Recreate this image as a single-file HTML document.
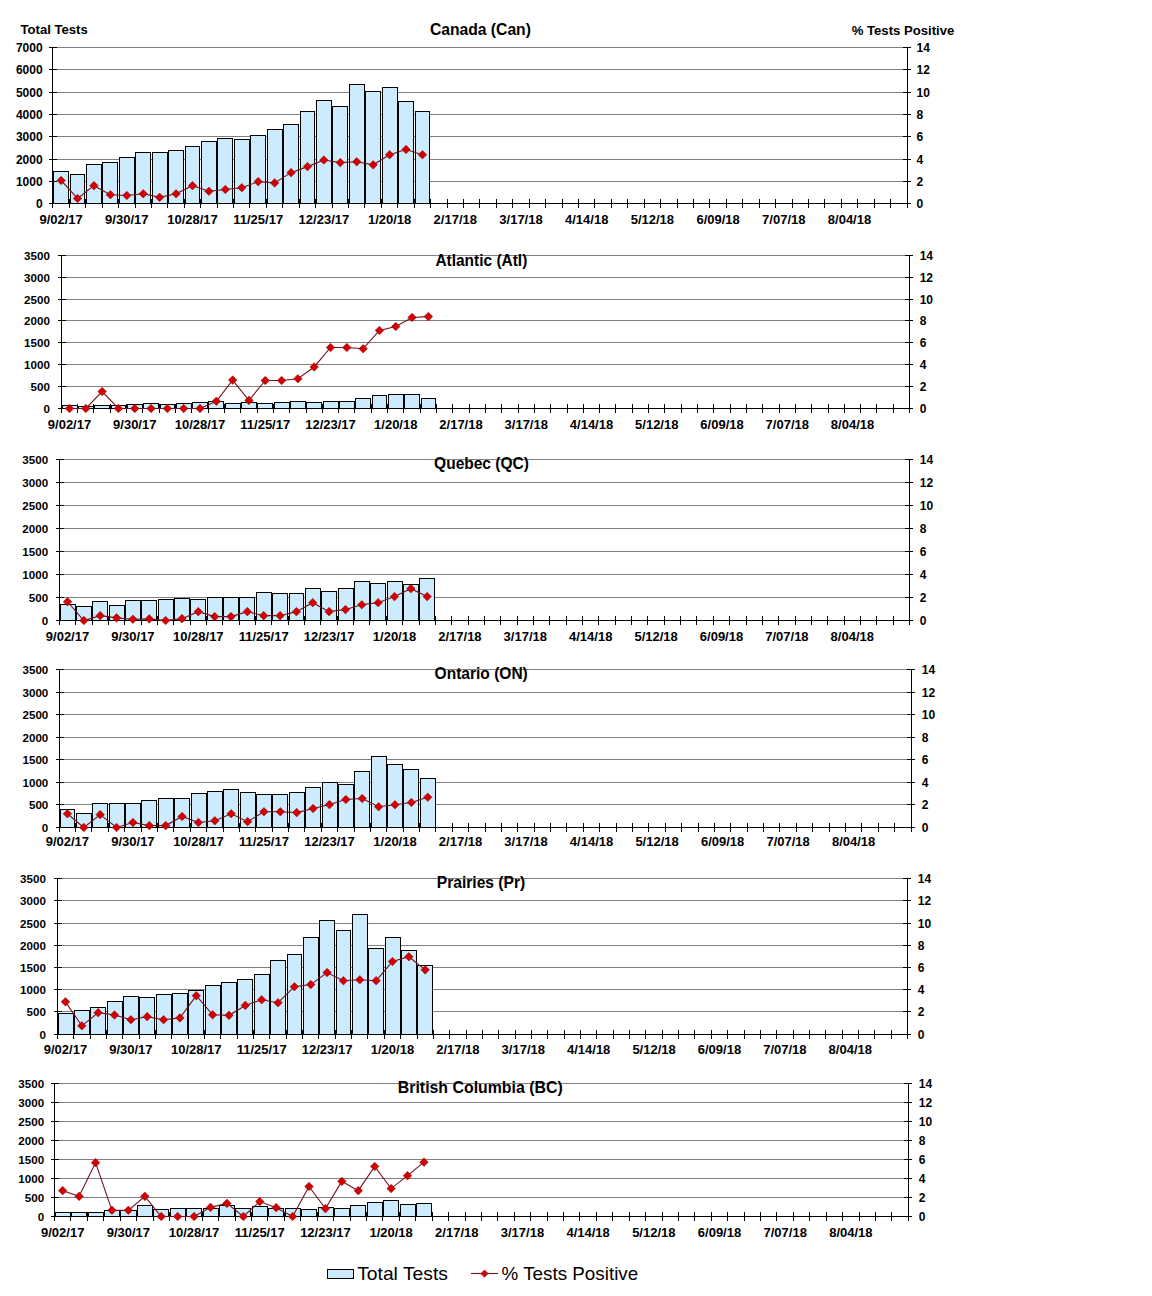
<!DOCTYPE html>
<html><head><meta charset="utf-8"><style>
html,body{margin:0;padding:0;background:#fff;}
body{width:1152px;height:1296px;overflow:hidden;}
svg{display:block;font-family:"Liberation Sans",sans-serif;}
.yl{font-size:12px;font-weight:bold;fill:#000;}
.xl{font-size:13px;font-weight:bold;fill:#000;}
.tt{font-size:15.6px;font-weight:bold;fill:#000;}
.hd{font-size:13.1px;font-weight:bold;fill:#000;}
.lg{font-size:19px;fill:#000;}
</style></head><body>
<svg width="1152" height="1296" viewBox="0 0 1152 1296" stroke-width="1">
<rect width="1152" height="1296" fill="#fff"/>
<text x="20.5" y="33.75" class="hd" textLength="67.2" lengthAdjust="spacingAndGlyphs">Total Tests</text>
<text x="851.7" y="35" class="hd" textLength="102.7" lengthAdjust="spacingAndGlyphs">% Tests Positive</text>
<path d="M53 181.5H907" stroke="#808080"/>
<path d="M53 159.5H907" stroke="#808080"/>
<path d="M53 136.5H907" stroke="#808080"/>
<path d="M53 114.5H907" stroke="#808080"/>
<path d="M53 92.5H907" stroke="#808080"/>
<path d="M53 69.5H907" stroke="#808080"/>
<path d="M53 47.5H907" stroke="#808080"/>
<rect x="53.5" y="171.5" width="15" height="32" fill="#CCEBFD" stroke="#000"/>
<rect x="70.5" y="174.5" width="14" height="29" fill="#CCEBFD" stroke="#000"/>
<rect x="86.5" y="164.5" width="15" height="39" fill="#CCEBFD" stroke="#000"/>
<rect x="102.5" y="162.5" width="15" height="41" fill="#CCEBFD" stroke="#000"/>
<rect x="119.5" y="157.5" width="15" height="46" fill="#CCEBFD" stroke="#000"/>
<rect x="135.5" y="152.5" width="15" height="51" fill="#CCEBFD" stroke="#000"/>
<rect x="152.5" y="152.5" width="15" height="51" fill="#CCEBFD" stroke="#000"/>
<rect x="168.5" y="150.5" width="15" height="53" fill="#CCEBFD" stroke="#000"/>
<rect x="185.5" y="146.5" width="14" height="57" fill="#CCEBFD" stroke="#000"/>
<rect x="201.5" y="141.5" width="15" height="62" fill="#CCEBFD" stroke="#000"/>
<rect x="217.5" y="138.5" width="15" height="65" fill="#CCEBFD" stroke="#000"/>
<rect x="234.5" y="139.5" width="15" height="64" fill="#CCEBFD" stroke="#000"/>
<rect x="250.5" y="135.5" width="15" height="68" fill="#CCEBFD" stroke="#000"/>
<rect x="267.5" y="129.5" width="15" height="74" fill="#CCEBFD" stroke="#000"/>
<rect x="283.5" y="124.5" width="15" height="79" fill="#CCEBFD" stroke="#000"/>
<rect x="300.5" y="111.5" width="14" height="92" fill="#CCEBFD" stroke="#000"/>
<rect x="316.5" y="100.5" width="15" height="103" fill="#CCEBFD" stroke="#000"/>
<rect x="332.5" y="106.5" width="15" height="97" fill="#CCEBFD" stroke="#000"/>
<rect x="349.5" y="84.5" width="15" height="119" fill="#CCEBFD" stroke="#000"/>
<rect x="365.5" y="91.5" width="15" height="112" fill="#CCEBFD" stroke="#000"/>
<rect x="382.5" y="87.5" width="15" height="116" fill="#CCEBFD" stroke="#000"/>
<rect x="398.5" y="101.5" width="15" height="102" fill="#CCEBFD" stroke="#000"/>
<rect x="415.5" y="111.5" width="14" height="92" fill="#CCEBFD" stroke="#000"/>
<path d="M52.5 47V208M907.5 47V208M49 203.5H911" stroke="#000"/>
<text x="42.6" y="207.8" class="yl" text-anchor="end">0</text>
<text x="916.6" y="207.8" class="yl">0</text>
<text x="42.6" y="185.8" class="yl" text-anchor="end">1000</text>
<text x="916.6" y="185.8" class="yl">2</text>
<text x="42.6" y="163.8" class="yl" text-anchor="end">2000</text>
<text x="916.6" y="163.8" class="yl">4</text>
<text x="42.6" y="140.8" class="yl" text-anchor="end">3000</text>
<text x="916.6" y="140.8" class="yl">6</text>
<text x="42.6" y="118.8" class="yl" text-anchor="end">4000</text>
<text x="916.6" y="118.8" class="yl">8</text>
<text x="42.6" y="96.8" class="yl" text-anchor="end">5000</text>
<text x="916.6" y="96.8" class="yl">10</text>
<text x="42.6" y="73.8" class="yl" text-anchor="end">6000</text>
<text x="916.6" y="73.8" class="yl">12</text>
<text x="42.6" y="51.8" class="yl" text-anchor="end">7000</text>
<text x="916.6" y="51.8" class="yl">14</text>
<path d="M49 203.5H57M903 203.5H911M49 181.5H57M903 181.5H911M49 159.5H57M903 159.5H911M49 136.5H57M903 136.5H911M49 114.5H57M903 114.5H911M49 92.5H57M903 92.5H911M49 69.5H57M903 69.5H911M49 47.5H57M903 47.5H911M69.5 199V208M85.5 199V208M102.5 199V208M118.5 199V208M135.5 199V208M151.5 199V208M167.5 199V208M184.5 199V208M200.5 199V208M217.5 199V208M233.5 199V208M249.5 199V208M266.5 199V208M282.5 199V208M299.5 199V208M315.5 199V208M332.5 199V208M348.5 199V208M364.5 199V208M381.5 199V208M397.5 199V208M414.5 199V208M430.5 199V208M447.5 199V208M463.5 199V208M479.5 199V208M496.5 199V208M512.5 199V208M529.5 199V208M545.5 199V208M562.5 199V208M578.5 199V208M594.5 199V208M611.5 199V208M627.5 199V208M644.5 199V208M660.5 199V208M677.5 199V208M693.5 199V208M709.5 199V208M726.5 199V208M742.5 199V208M759.5 199V208M775.5 199V208M792.5 199V208M808.5 199V208M824.5 199V208M841.5 199V208M857.5 199V208M874.5 199V208M890.5 199V208" stroke="#000"/>
<text x="61.1" y="223.5" class="xl" text-anchor="middle">9/02/17</text>
<text x="126.8" y="223.5" class="xl" text-anchor="middle">9/30/17</text>
<text x="192.5" y="223.5" class="xl" text-anchor="middle">10/28/17</text>
<text x="258.2" y="223.5" class="xl" text-anchor="middle">11/25/17</text>
<text x="323.9" y="223.5" class="xl" text-anchor="middle">12/23/17</text>
<text x="389.6" y="223.5" class="xl" text-anchor="middle">1/20/18</text>
<text x="455.3" y="223.5" class="xl" text-anchor="middle">2/17/18</text>
<text x="521" y="223.5" class="xl" text-anchor="middle">3/17/18</text>
<text x="586.7" y="223.5" class="xl" text-anchor="middle">4/14/18</text>
<text x="652.4" y="223.5" class="xl" text-anchor="middle">5/12/18</text>
<text x="718.1" y="223.5" class="xl" text-anchor="middle">6/09/18</text>
<text x="783.8" y="223.5" class="xl" text-anchor="middle">7/07/18</text>
<text x="849.5" y="223.5" class="xl" text-anchor="middle">8/04/18</text>
<polyline fill="none" stroke="#76121F" stroke-width="1.1" points="61.1,180.43 77.53,198.49 93.95,185.67 110.38,194.7 126.8,195.48 143.23,193.81 159.65,197.37 176.08,193.81 192.5,185.67 208.93,191.24 225.35,189.46 241.78,187.68 258.2,181.66 274.63,182.89 291.05,172.63 307.48,166.62 323.9,160.04 340.33,162.61 356.75,161.71 373.18,164.83 389.6,154.69 406.03,149.46 422.45,154.69"/>
<path d="M61.1 176.13L65.4 180.43L61.1 184.73L56.8 180.43ZM77.53 194.19L81.83 198.49L77.53 202.79L73.23 198.49ZM93.95 181.37L98.25 185.67L93.95 189.97L89.65 185.67ZM110.38 190.4L114.68 194.7L110.38 199L106.08 194.7ZM126.8 191.18L131.1 195.48L126.8 199.78L122.5 195.48ZM143.23 189.51L147.53 193.81L143.23 198.11L138.93 193.81ZM159.65 193.07L163.95 197.37L159.65 201.67L155.35 197.37ZM176.08 189.51L180.38 193.81L176.08 198.11L171.78 193.81ZM192.5 181.37L196.8 185.67L192.5 189.97L188.2 185.67ZM208.93 186.94L213.23 191.24L208.93 195.54L204.63 191.24ZM225.35 185.16L229.65 189.46L225.35 193.76L221.05 189.46ZM241.78 183.38L246.08 187.68L241.78 191.98L237.48 187.68ZM258.2 177.36L262.5 181.66L258.2 185.96L253.9 181.66ZM274.63 178.59L278.93 182.89L274.63 187.19L270.33 182.89ZM291.05 168.33L295.35 172.63L291.05 176.93L286.75 172.63ZM307.48 162.32L311.78 166.62L307.48 170.92L303.18 166.62ZM323.9 155.74L328.2 160.04L323.9 164.34L319.6 160.04ZM340.33 158.31L344.63 162.61L340.33 166.91L336.03 162.61ZM356.75 157.41L361.05 161.71L356.75 166.01L352.45 161.71ZM373.18 160.53L377.48 164.83L373.18 169.13L368.88 164.83ZM389.6 150.39L393.9 154.69L389.6 158.99L385.3 154.69ZM406.03 145.16L410.33 149.46L406.03 153.76L401.73 149.46ZM422.45 150.39L426.75 154.69L422.45 158.99L418.15 154.69Z" fill="#D20000" stroke="#8A0A14" stroke-width="0.5"/>
<text x="480.4" y="34.6" class="tt" text-anchor="middle" textLength="101.0" lengthAdjust="spacingAndGlyphs">Canada (Can)</text>
<path d="M62 386.5H909" stroke="#808080"/>
<path d="M62 364.5H909" stroke="#808080"/>
<path d="M62 342.5H909" stroke="#808080"/>
<path d="M62 320.5H909" stroke="#808080"/>
<path d="M62 299.5H909" stroke="#808080"/>
<path d="M62 277.5H909" stroke="#808080"/>
<path d="M62 255.5H909" stroke="#808080"/>
<rect x="62.5" y="405.5" width="15" height="3" fill="#CCEBFD" stroke="#000"/>
<rect x="78.5" y="406.5" width="15" height="2" fill="#CCEBFD" stroke="#000"/>
<rect x="94.5" y="405.5" width="15" height="3" fill="#CCEBFD" stroke="#000"/>
<rect x="111.5" y="405.5" width="14" height="3" fill="#CCEBFD" stroke="#000"/>
<rect x="127.5" y="404.5" width="15" height="4" fill="#CCEBFD" stroke="#000"/>
<rect x="143.5" y="403.5" width="15" height="5" fill="#CCEBFD" stroke="#000"/>
<rect x="160.5" y="404.5" width="14" height="4" fill="#CCEBFD" stroke="#000"/>
<rect x="176.5" y="403.5" width="15" height="5" fill="#CCEBFD" stroke="#000"/>
<rect x="192.5" y="402.5" width="15" height="6" fill="#CCEBFD" stroke="#000"/>
<rect x="208.5" y="401.5" width="15" height="7" fill="#CCEBFD" stroke="#000"/>
<rect x="225.5" y="403.5" width="15" height="5" fill="#CCEBFD" stroke="#000"/>
<rect x="241.5" y="402.5" width="15" height="6" fill="#CCEBFD" stroke="#000"/>
<rect x="257.5" y="403.5" width="15" height="5" fill="#CCEBFD" stroke="#000"/>
<rect x="274.5" y="402.5" width="15" height="6" fill="#CCEBFD" stroke="#000"/>
<rect x="290.5" y="401.5" width="15" height="7" fill="#CCEBFD" stroke="#000"/>
<rect x="306.5" y="402.5" width="15" height="6" fill="#CCEBFD" stroke="#000"/>
<rect x="323.5" y="401.5" width="15" height="7" fill="#CCEBFD" stroke="#000"/>
<rect x="339.5" y="401.5" width="15" height="7" fill="#CCEBFD" stroke="#000"/>
<rect x="355.5" y="398.5" width="15" height="10" fill="#CCEBFD" stroke="#000"/>
<rect x="372.5" y="395.5" width="14" height="13" fill="#CCEBFD" stroke="#000"/>
<rect x="388.5" y="394.5" width="15" height="14" fill="#CCEBFD" stroke="#000"/>
<rect x="404.5" y="394.5" width="15" height="14" fill="#CCEBFD" stroke="#000"/>
<rect x="421.5" y="398.5" width="14" height="10" fill="#CCEBFD" stroke="#000"/>
<path d="M61.5 255V413M909.5 255V413M58 408.5H913" stroke="#000"/>
<text x="49.9" y="412.8" class="yl" text-anchor="end" style="font-size:11.6px">0</text>
<text x="919.7" y="412.8" class="yl">0</text>
<text x="49.9" y="390.8" class="yl" text-anchor="end" style="font-size:11.6px">500</text>
<text x="919.7" y="390.8" class="yl">2</text>
<text x="49.9" y="368.8" class="yl" text-anchor="end" style="font-size:11.6px">1000</text>
<text x="919.7" y="368.8" class="yl">4</text>
<text x="49.9" y="346.8" class="yl" text-anchor="end" style="font-size:11.6px">1500</text>
<text x="919.7" y="346.8" class="yl">6</text>
<text x="49.9" y="324.8" class="yl" text-anchor="end" style="font-size:11.6px">2000</text>
<text x="919.7" y="324.8" class="yl">8</text>
<text x="49.9" y="303.8" class="yl" text-anchor="end" style="font-size:11.6px">2500</text>
<text x="919.7" y="303.8" class="yl">10</text>
<text x="49.9" y="281.8" class="yl" text-anchor="end" style="font-size:11.6px">3000</text>
<text x="919.7" y="281.8" class="yl">12</text>
<text x="49.9" y="259.8" class="yl" text-anchor="end" style="font-size:11.6px">3500</text>
<text x="919.7" y="259.8" class="yl">14</text>
<path d="M58 408.5H66M905 408.5H913M58 386.5H66M905 386.5H913M58 364.5H66M905 364.5H913M58 342.5H66M905 342.5H913M58 320.5H66M905 320.5H913M58 299.5H66M905 299.5H913M58 277.5H66M905 277.5H913M58 255.5H66M905 255.5H913M77.5 404V413M93.5 404V413M110.5 404V413M126.5 404V413M142.5 404V413M159.5 404V413M175.5 404V413M191.5 404V413M208.5 404V413M224.5 404V413M240.5 404V413M257.5 404V413M273.5 404V413M289.5 404V413M306.5 404V413M322.5 404V413M338.5 404V413M354.5 404V413M371.5 404V413M387.5 404V413M403.5 404V413M420.5 404V413M436.5 404V413M452.5 404V413M469.5 404V413M485.5 404V413M501.5 404V413M518.5 404V413M534.5 404V413M550.5 404V413M567.5 404V413M583.5 404V413M599.5 404V413M615.5 404V413M632.5 404V413M648.5 404V413M664.5 404V413M681.5 404V413M697.5 404V413M713.5 404V413M730.5 404V413M746.5 404V413M762.5 404V413M779.5 404V413M795.5 404V413M811.5 404V413M828.5 404V413M844.5 404V413M860.5 404V413M876.5 404V413M893.5 404V413" stroke="#000"/>
<text x="69.5" y="429" class="xl" text-anchor="middle">9/02/17</text>
<text x="134.75" y="429" class="xl" text-anchor="middle">9/30/17</text>
<text x="200" y="429" class="xl" text-anchor="middle">10/28/17</text>
<text x="265.25" y="429" class="xl" text-anchor="middle">11/25/17</text>
<text x="330.5" y="429" class="xl" text-anchor="middle">12/23/17</text>
<text x="395.76" y="429" class="xl" text-anchor="middle">1/20/18</text>
<text x="461.01" y="429" class="xl" text-anchor="middle">2/17/18</text>
<text x="526.26" y="429" class="xl" text-anchor="middle">3/17/18</text>
<text x="591.51" y="429" class="xl" text-anchor="middle">4/14/18</text>
<text x="656.76" y="429" class="xl" text-anchor="middle">5/12/18</text>
<text x="722.02" y="429" class="xl" text-anchor="middle">6/09/18</text>
<text x="787.27" y="429" class="xl" text-anchor="middle">7/07/18</text>
<text x="852.52" y="429" class="xl" text-anchor="middle">8/04/18</text>
<polyline fill="none" stroke="#76121F" stroke-width="1.1" points="69.5,408.5 85.81,408.5 102.12,391.56 118.44,408.5 134.75,408.5 151.06,408.5 167.37,408.5 183.69,408.5 200,408.5 216.31,401.29 232.63,380.09 248.94,400.41 265.25,380.52 281.57,380.52 297.88,378.77 314.19,366.97 330.5,347.52 346.82,347.52 363.13,348.72 379.44,330.47 395.76,326.54 412.07,317.47 428.38,316.59"/>
<path d="M69.5 404.2L73.8 408.5L69.5 412.8L65.2 408.5ZM85.81 404.2L90.11 408.5L85.81 412.8L81.51 408.5ZM102.12 387.26L106.42 391.56L102.12 395.86L97.82 391.56ZM118.44 404.2L122.74 408.5L118.44 412.8L114.14 408.5ZM134.75 404.2L139.05 408.5L134.75 412.8L130.45 408.5ZM151.06 404.2L155.36 408.5L151.06 412.8L146.76 408.5ZM167.37 404.2L171.67 408.5L167.37 412.8L163.07 408.5ZM183.69 404.2L187.99 408.5L183.69 412.8L179.39 408.5ZM200 404.2L204.3 408.5L200 412.8L195.7 408.5ZM216.31 396.99L220.61 401.29L216.31 405.59L212.01 401.29ZM232.63 375.79L236.93 380.09L232.63 384.39L228.33 380.09ZM248.94 396.11L253.24 400.41L248.94 404.71L244.64 400.41ZM265.25 376.22L269.55 380.52L265.25 384.82L260.95 380.52ZM281.57 376.22L285.87 380.52L281.57 384.82L277.27 380.52ZM297.88 374.47L302.18 378.77L297.88 383.07L293.58 378.77ZM314.19 362.67L318.49 366.97L314.19 371.27L309.89 366.97ZM330.5 343.22L334.8 347.52L330.5 351.82L326.2 347.52ZM346.82 343.22L351.12 347.52L346.82 351.82L342.52 347.52ZM363.13 344.42L367.43 348.72L363.13 353.02L358.83 348.72ZM379.44 326.17L383.74 330.47L379.44 334.77L375.14 330.47ZM395.76 322.24L400.06 326.54L395.76 330.84L391.46 326.54ZM412.07 313.17L416.37 317.47L412.07 321.77L407.77 317.47ZM428.38 312.29L432.68 316.59L428.38 320.89L424.08 316.59Z" fill="#D20000" stroke="#8A0A14" stroke-width="0.5"/>
<text x="481.35" y="265.5" class="tt" text-anchor="middle" textLength="91.9" lengthAdjust="spacingAndGlyphs">Atlantic (Atl)</text>
<path d="M60 597.5H909" stroke="#808080"/>
<path d="M60 574.5H909" stroke="#808080"/>
<path d="M60 551.5H909" stroke="#808080"/>
<path d="M60 528.5H909" stroke="#808080"/>
<path d="M60 505.5H909" stroke="#808080"/>
<path d="M60 482.5H909" stroke="#808080"/>
<path d="M60 459.5H909" stroke="#808080"/>
<rect x="60.5" y="604.5" width="15" height="16" fill="#CCEBFD" stroke="#000"/>
<rect x="76.5" y="606.5" width="15" height="14" fill="#CCEBFD" stroke="#000"/>
<rect x="92.5" y="601.5" width="15" height="19" fill="#CCEBFD" stroke="#000"/>
<rect x="109.5" y="605.5" width="15" height="15" fill="#CCEBFD" stroke="#000"/>
<rect x="125.5" y="600.5" width="15" height="20" fill="#CCEBFD" stroke="#000"/>
<rect x="141.5" y="600.5" width="15" height="20" fill="#CCEBFD" stroke="#000"/>
<rect x="158.5" y="599.5" width="15" height="21" fill="#CCEBFD" stroke="#000"/>
<rect x="174.5" y="598.5" width="15" height="22" fill="#CCEBFD" stroke="#000"/>
<rect x="190.5" y="599.5" width="15" height="21" fill="#CCEBFD" stroke="#000"/>
<rect x="207.5" y="597.5" width="15" height="23" fill="#CCEBFD" stroke="#000"/>
<rect x="223.5" y="597.5" width="15" height="23" fill="#CCEBFD" stroke="#000"/>
<rect x="239.5" y="597.5" width="15" height="23" fill="#CCEBFD" stroke="#000"/>
<rect x="256.5" y="592.5" width="15" height="28" fill="#CCEBFD" stroke="#000"/>
<rect x="272.5" y="593.5" width="15" height="27" fill="#CCEBFD" stroke="#000"/>
<rect x="289.5" y="593.5" width="14" height="27" fill="#CCEBFD" stroke="#000"/>
<rect x="305.5" y="588.5" width="15" height="32" fill="#CCEBFD" stroke="#000"/>
<rect x="321.5" y="591.5" width="15" height="29" fill="#CCEBFD" stroke="#000"/>
<rect x="338.5" y="588.5" width="15" height="32" fill="#CCEBFD" stroke="#000"/>
<rect x="354.5" y="581.5" width="15" height="39" fill="#CCEBFD" stroke="#000"/>
<rect x="370.5" y="583.5" width="15" height="37" fill="#CCEBFD" stroke="#000"/>
<rect x="387.5" y="581.5" width="15" height="39" fill="#CCEBFD" stroke="#000"/>
<rect x="403.5" y="584.5" width="15" height="36" fill="#CCEBFD" stroke="#000"/>
<rect x="419.5" y="578.5" width="15" height="42" fill="#CCEBFD" stroke="#000"/>
<path d="M59.5 459V625M909.5 459V625M56 620.5H913" stroke="#000"/>
<text x="48.1" y="624.8" class="yl" text-anchor="end" style="font-size:11.6px">0</text>
<text x="919.8" y="624.8" class="yl">0</text>
<text x="48.1" y="601.8" class="yl" text-anchor="end" style="font-size:11.6px">500</text>
<text x="919.8" y="601.8" class="yl">2</text>
<text x="48.1" y="578.8" class="yl" text-anchor="end" style="font-size:11.6px">1000</text>
<text x="919.8" y="578.8" class="yl">4</text>
<text x="48.1" y="555.8" class="yl" text-anchor="end" style="font-size:11.6px">1500</text>
<text x="919.8" y="555.8" class="yl">6</text>
<text x="48.1" y="532.8" class="yl" text-anchor="end" style="font-size:11.6px">2000</text>
<text x="919.8" y="532.8" class="yl">8</text>
<text x="48.1" y="509.8" class="yl" text-anchor="end" style="font-size:11.6px">2500</text>
<text x="919.8" y="509.8" class="yl">10</text>
<text x="48.1" y="486.8" class="yl" text-anchor="end" style="font-size:11.6px">3000</text>
<text x="919.8" y="486.8" class="yl">12</text>
<text x="48.1" y="463.8" class="yl" text-anchor="end" style="font-size:11.6px">3500</text>
<text x="919.8" y="463.8" class="yl">14</text>
<path d="M56 620.5H64M905 620.5H913M56 597.5H64M905 597.5H913M56 574.5H64M905 574.5H913M56 551.5H64M905 551.5H913M56 528.5H64M905 528.5H913M56 505.5H64M905 505.5H913M56 482.5H64M905 482.5H913M56 459.5H64M905 459.5H913M75.5 616V625M92.5 616V625M108.5 616V625M124.5 616V625M141.5 616V625M157.5 616V625M173.5 616V625M190.5 616V625M206.5 616V625M222.5 616V625M239.5 616V625M255.5 616V625M271.5 616V625M288.5 616V625M304.5 616V625M320.5 616V625M337.5 616V625M353.5 616V625M369.5 616V625M386.5 616V625M402.5 616V625M419.5 616V625M435.5 616V625M451.5 616V625M468.5 616V625M484.5 616V625M500.5 616V625M517.5 616V625M533.5 616V625M549.5 616V625M566.5 616V625M582.5 616V625M598.5 616V625M615.5 616V625M631.5 616V625M647.5 616V625M664.5 616V625M680.5 616V625M696.5 616V625M713.5 616V625M729.5 616V625M746.5 616V625M762.5 616V625M778.5 616V625M795.5 616V625M811.5 616V625M827.5 616V625M844.5 616V625M860.5 616V625M876.5 616V625M893.5 616V625" stroke="#000"/>
<text x="67.5" y="640.5" class="xl" text-anchor="middle">9/02/17</text>
<text x="132.91" y="640.5" class="xl" text-anchor="middle">9/30/17</text>
<text x="198.31" y="640.5" class="xl" text-anchor="middle">10/28/17</text>
<text x="263.71" y="640.5" class="xl" text-anchor="middle">11/25/17</text>
<text x="329.11" y="640.5" class="xl" text-anchor="middle">12/23/17</text>
<text x="394.5" y="640.5" class="xl" text-anchor="middle">1/20/18</text>
<text x="459.91" y="640.5" class="xl" text-anchor="middle">2/17/18</text>
<text x="525.31" y="640.5" class="xl" text-anchor="middle">3/17/18</text>
<text x="590.71" y="640.5" class="xl" text-anchor="middle">4/14/18</text>
<text x="656.11" y="640.5" class="xl" text-anchor="middle">5/12/18</text>
<text x="721.51" y="640.5" class="xl" text-anchor="middle">6/09/18</text>
<text x="786.91" y="640.5" class="xl" text-anchor="middle">7/07/18</text>
<text x="852.31" y="640.5" class="xl" text-anchor="middle">8/04/18</text>
<polyline fill="none" stroke="#76121F" stroke-width="1.1" points="67.5,601.75 83.86,620.5 100.2,615.67 116.56,617.86 132.91,619.24 149.25,618.89 165.61,620.5 181.96,618.66 198.31,611.64 214.66,616.59 231,616.59 247.36,611.64 263.71,615.67 280.06,615.67 296.41,611.64 312.75,602.67 329.11,611.64 345.45,609.58 361.81,604.75 378.16,602.67 394.5,596.58 410.86,588.64 427.21,596.58"/>
<path d="M67.5 597.46L71.8 601.75L67.5 606.05L63.2 601.75ZM83.86 616.2L88.16 620.5L83.86 624.8L79.56 620.5ZM100.2 611.37L104.5 615.67L100.2 619.97L95.91 615.67ZM116.56 613.56L120.86 617.86L116.56 622.15L112.26 617.86ZM132.91 614.94L137.21 619.24L132.91 623.53L128.6 619.24ZM149.25 614.59L153.56 618.89L149.25 623.19L144.95 618.89ZM165.61 616.2L169.91 620.5L165.61 624.8L161.31 620.5ZM181.96 614.36L186.26 618.66L181.96 622.96L177.66 618.66ZM198.31 607.35L202.61 611.64L198.31 615.94L194 611.64ZM214.66 612.29L218.96 616.59L214.66 620.89L210.36 616.59ZM231 612.29L235.31 616.59L231 620.89L226.7 616.59ZM247.36 607.35L251.66 611.64L247.36 615.94L243.06 611.64ZM263.71 611.37L268.01 615.67L263.71 619.97L259.41 615.67ZM280.06 611.37L284.36 615.67L280.06 619.97L275.75 615.67ZM296.41 607.35L300.71 611.64L296.41 615.94L292.11 611.64ZM312.75 598.38L317.06 602.67L312.75 606.97L308.45 602.67ZM329.11 607.35L333.41 611.64L329.11 615.94L324.81 611.64ZM345.45 605.28L349.75 609.58L345.45 613.88L341.15 609.58ZM361.81 600.45L366.11 604.75L361.81 609.04L357.5 604.75ZM378.16 598.38L382.46 602.67L378.16 606.97L373.86 602.67ZM394.5 592.28L398.81 596.58L394.5 600.88L390.2 596.58ZM410.86 584.35L415.16 588.64L410.86 592.94L406.56 588.64ZM427.21 592.28L431.51 596.58L427.21 600.88L422.91 596.58Z" fill="#D20000" stroke="#8A0A14" stroke-width="0.5"/>
<text x="481.5" y="468.75" class="tt" text-anchor="middle" textLength="94.8" lengthAdjust="spacingAndGlyphs">Quebec (QC)</text>
<path d="M60 804.5H911" stroke="#808080"/>
<path d="M60 782.5H911" stroke="#808080"/>
<path d="M60 759.5H911" stroke="#808080"/>
<path d="M60 737.5H911" stroke="#808080"/>
<path d="M60 714.5H911" stroke="#808080"/>
<path d="M60 692.5H911" stroke="#808080"/>
<path d="M60 669.5H911" stroke="#808080"/>
<rect x="60.5" y="809.5" width="14" height="18" fill="#CCEBFD" stroke="#000"/>
<rect x="76.5" y="813.5" width="15" height="14" fill="#CCEBFD" stroke="#000"/>
<rect x="92.5" y="803.5" width="15" height="24" fill="#CCEBFD" stroke="#000"/>
<rect x="109.5" y="803.5" width="15" height="24" fill="#CCEBFD" stroke="#000"/>
<rect x="125.5" y="803.5" width="15" height="24" fill="#CCEBFD" stroke="#000"/>
<rect x="141.5" y="800.5" width="15" height="27" fill="#CCEBFD" stroke="#000"/>
<rect x="158.5" y="798.5" width="15" height="29" fill="#CCEBFD" stroke="#000"/>
<rect x="174.5" y="798.5" width="15" height="29" fill="#CCEBFD" stroke="#000"/>
<rect x="191.5" y="793.5" width="15" height="34" fill="#CCEBFD" stroke="#000"/>
<rect x="207.5" y="791.5" width="15" height="36" fill="#CCEBFD" stroke="#000"/>
<rect x="223.5" y="789.5" width="15" height="38" fill="#CCEBFD" stroke="#000"/>
<rect x="240.5" y="792.5" width="15" height="35" fill="#CCEBFD" stroke="#000"/>
<rect x="256.5" y="794.5" width="15" height="33" fill="#CCEBFD" stroke="#000"/>
<rect x="272.5" y="794.5" width="15" height="33" fill="#CCEBFD" stroke="#000"/>
<rect x="289.5" y="792.5" width="15" height="35" fill="#CCEBFD" stroke="#000"/>
<rect x="305.5" y="787.5" width="15" height="40" fill="#CCEBFD" stroke="#000"/>
<rect x="322.5" y="782.5" width="15" height="45" fill="#CCEBFD" stroke="#000"/>
<rect x="338.5" y="784.5" width="15" height="43" fill="#CCEBFD" stroke="#000"/>
<rect x="354.5" y="771.5" width="15" height="56" fill="#CCEBFD" stroke="#000"/>
<rect x="371.5" y="756.5" width="15" height="71" fill="#CCEBFD" stroke="#000"/>
<rect x="387.5" y="764.5" width="15" height="63" fill="#CCEBFD" stroke="#000"/>
<rect x="403.5" y="769.5" width="15" height="58" fill="#CCEBFD" stroke="#000"/>
<rect x="420.5" y="778.5" width="15" height="49" fill="#CCEBFD" stroke="#000"/>
<path d="M59.5 669V832M911.5 669V832M56 827.5H915" stroke="#000"/>
<text x="48.3" y="831.8" class="yl" text-anchor="end" style="font-size:11.6px">0</text>
<text x="921.8" y="831.8" class="yl">0</text>
<text x="48.3" y="808.8" class="yl" text-anchor="end" style="font-size:11.6px">500</text>
<text x="921.8" y="808.8" class="yl">2</text>
<text x="48.3" y="786.8" class="yl" text-anchor="end" style="font-size:11.6px">1000</text>
<text x="921.8" y="786.8" class="yl">4</text>
<text x="48.3" y="763.8" class="yl" text-anchor="end" style="font-size:11.6px">1500</text>
<text x="921.8" y="763.8" class="yl">6</text>
<text x="48.3" y="741.8" class="yl" text-anchor="end" style="font-size:11.6px">2000</text>
<text x="921.8" y="741.8" class="yl">8</text>
<text x="48.3" y="718.8" class="yl" text-anchor="end" style="font-size:11.6px">2500</text>
<text x="921.8" y="718.8" class="yl">10</text>
<text x="48.3" y="696.8" class="yl" text-anchor="end" style="font-size:11.6px">3000</text>
<text x="921.8" y="696.8" class="yl">12</text>
<text x="48.3" y="673.8" class="yl" text-anchor="end" style="font-size:11.6px">3500</text>
<text x="921.8" y="673.8" class="yl">14</text>
<path d="M56 827.5H64M907 827.5H915M56 804.5H64M907 804.5H915M56 782.5H64M907 782.5H915M56 759.5H64M907 759.5H915M56 737.5H64M907 737.5H915M56 714.5H64M907 714.5H915M56 692.5H64M907 692.5H915M56 669.5H64M907 669.5H915M75.5 823V832M91.5 823V832M108.5 823V832M124.5 823V832M141.5 823V832M157.5 823V832M173.5 823V832M190.5 823V832M206.5 823V832M223.5 823V832M239.5 823V832M255.5 823V832M272.5 823V832M288.5 823V832M304.5 823V832M321.5 823V832M337.5 823V832M354.5 823V832M370.5 823V832M386.5 823V832M403.5 823V832M419.5 823V832M435.5 823V832M452.5 823V832M468.5 823V832M485.5 823V832M501.5 823V832M517.5 823V832M534.5 823V832M550.5 823V832M566.5 823V832M583.5 823V832M599.5 823V832M616.5 823V832M632.5 823V832M648.5 823V832M665.5 823V832M681.5 823V832M698.5 823V832M714.5 823V832M730.5 823V832M747.5 823V832M763.5 823V832M779.5 823V832M796.5 823V832M812.5 823V832M829.5 823V832M845.5 823V832M861.5 823V832M878.5 823V832M894.5 823V832" stroke="#000"/>
<text x="67.4" y="846.4" class="xl" text-anchor="middle">9/02/17</text>
<text x="132.92" y="846.4" class="xl" text-anchor="middle">9/30/17</text>
<text x="198.44" y="846.4" class="xl" text-anchor="middle">10/28/17</text>
<text x="263.96" y="846.4" class="xl" text-anchor="middle">11/25/17</text>
<text x="329.48" y="846.4" class="xl" text-anchor="middle">12/23/17</text>
<text x="395" y="846.4" class="xl" text-anchor="middle">1/20/18</text>
<text x="460.52" y="846.4" class="xl" text-anchor="middle">2/17/18</text>
<text x="526.04" y="846.4" class="xl" text-anchor="middle">3/17/18</text>
<text x="591.56" y="846.4" class="xl" text-anchor="middle">4/14/18</text>
<text x="657.08" y="846.4" class="xl" text-anchor="middle">5/12/18</text>
<text x="722.6" y="846.4" class="xl" text-anchor="middle">6/09/18</text>
<text x="788.12" y="846.4" class="xl" text-anchor="middle">7/07/18</text>
<text x="853.64" y="846.4" class="xl" text-anchor="middle">8/04/18</text>
<polyline fill="none" stroke="#76121F" stroke-width="1.1" points="67.4,813.73 83.78,827.5 100.16,814.63 116.54,827.5 132.92,822.53 149.3,825.58 165.68,825.58 182.06,816.44 198.44,822.53 214.82,820.73 231.2,813.73 247.58,821.63 263.96,811.7 280.34,811.7 296.72,812.6 313.1,808.54 329.48,804.59 345.86,799.51 362.24,798.5 378.62,806.73 395,804.7 411.38,802.45 427.76,797.25"/>
<path d="M67.4 809.43L71.7 813.73L67.4 818.03L63.1 813.73ZM83.78 823.2L88.08 827.5L83.78 831.8L79.48 827.5ZM100.16 810.33L104.46 814.63L100.16 818.93L95.86 814.63ZM116.54 823.2L120.84 827.5L116.54 831.8L112.24 827.5ZM132.92 818.23L137.22 822.53L132.92 826.83L128.62 822.53ZM149.3 821.28L153.6 825.58L149.3 829.88L145 825.58ZM165.68 821.28L169.98 825.58L165.68 829.88L161.38 825.58ZM182.06 812.14L186.36 816.44L182.06 820.74L177.76 816.44ZM198.44 818.23L202.74 822.53L198.44 826.83L194.14 822.53ZM214.82 816.43L219.12 820.73L214.82 825.03L210.52 820.73ZM231.2 809.43L235.5 813.73L231.2 818.03L226.9 813.73ZM247.58 817.33L251.88 821.63L247.58 825.93L243.28 821.63ZM263.96 807.4L268.26 811.7L263.96 816L259.66 811.7ZM280.34 807.4L284.64 811.7L280.34 816L276.04 811.7ZM296.72 808.3L301.02 812.6L296.72 816.9L292.42 812.6ZM313.1 804.24L317.4 808.54L313.1 812.84L308.8 808.54ZM329.48 800.29L333.78 804.59L329.48 808.89L325.18 804.59ZM345.86 795.21L350.16 799.51L345.86 803.81L341.56 799.51ZM362.24 794.2L366.54 798.5L362.24 802.8L357.94 798.5ZM378.62 802.43L382.92 806.73L378.62 811.03L374.32 806.73ZM395 800.4L399.3 804.7L395 809L390.7 804.7ZM411.38 798.15L415.68 802.45L411.38 806.75L407.08 802.45ZM427.76 792.95L432.06 797.25L427.76 801.55L423.46 797.25Z" fill="#D20000" stroke="#8A0A14" stroke-width="0.5"/>
<text x="481.2" y="679" class="tt" text-anchor="middle" textLength="93.2" lengthAdjust="spacingAndGlyphs">Ontario (ON)</text>
<path d="M58 1011.5H907" stroke="#808080"/>
<path d="M58 989.5H907" stroke="#808080"/>
<path d="M58 967.5H907" stroke="#808080"/>
<path d="M58 945.5H907" stroke="#808080"/>
<path d="M58 923.5H907" stroke="#808080"/>
<path d="M58 900.5H907" stroke="#808080"/>
<path d="M58 878.5H907" stroke="#808080"/>
<rect x="58.5" y="1013.5" width="15" height="21" fill="#CCEBFD" stroke="#000"/>
<rect x="74.5" y="1010.5" width="15" height="24" fill="#CCEBFD" stroke="#000"/>
<rect x="90.5" y="1007.5" width="15" height="27" fill="#CCEBFD" stroke="#000"/>
<rect x="107.5" y="1001.5" width="15" height="33" fill="#CCEBFD" stroke="#000"/>
<rect x="123.5" y="996.5" width="15" height="38" fill="#CCEBFD" stroke="#000"/>
<rect x="139.5" y="997.5" width="15" height="37" fill="#CCEBFD" stroke="#000"/>
<rect x="156.5" y="994.5" width="15" height="40" fill="#CCEBFD" stroke="#000"/>
<rect x="172.5" y="993.5" width="15" height="41" fill="#CCEBFD" stroke="#000"/>
<rect x="188.5" y="990.5" width="15" height="44" fill="#CCEBFD" stroke="#000"/>
<rect x="205.5" y="985.5" width="15" height="49" fill="#CCEBFD" stroke="#000"/>
<rect x="221.5" y="982.5" width="15" height="52" fill="#CCEBFD" stroke="#000"/>
<rect x="237.5" y="979.5" width="15" height="55" fill="#CCEBFD" stroke="#000"/>
<rect x="254.5" y="974.5" width="15" height="60" fill="#CCEBFD" stroke="#000"/>
<rect x="270.5" y="960.5" width="15" height="74" fill="#CCEBFD" stroke="#000"/>
<rect x="287.5" y="954.5" width="14" height="80" fill="#CCEBFD" stroke="#000"/>
<rect x="303.5" y="937.5" width="15" height="97" fill="#CCEBFD" stroke="#000"/>
<rect x="319.5" y="920.5" width="15" height="114" fill="#CCEBFD" stroke="#000"/>
<rect x="336.5" y="930.5" width="14" height="104" fill="#CCEBFD" stroke="#000"/>
<rect x="352.5" y="914.5" width="15" height="120" fill="#CCEBFD" stroke="#000"/>
<rect x="368.5" y="948.5" width="15" height="86" fill="#CCEBFD" stroke="#000"/>
<rect x="385.5" y="937.5" width="15" height="97" fill="#CCEBFD" stroke="#000"/>
<rect x="401.5" y="950.5" width="15" height="84" fill="#CCEBFD" stroke="#000"/>
<rect x="417.5" y="965.5" width="15" height="69" fill="#CCEBFD" stroke="#000"/>
<path d="M57.5 878V1039M907.5 878V1039M54 1034.5H911" stroke="#000"/>
<text x="45.9" y="1038.8" class="yl" text-anchor="end" style="font-size:11.6px">0</text>
<text x="917.8" y="1038.8" class="yl">0</text>
<text x="45.9" y="1015.8" class="yl" text-anchor="end" style="font-size:11.6px">500</text>
<text x="917.8" y="1015.8" class="yl">2</text>
<text x="45.9" y="993.8" class="yl" text-anchor="end" style="font-size:11.6px">1000</text>
<text x="917.8" y="993.8" class="yl">4</text>
<text x="45.9" y="971.8" class="yl" text-anchor="end" style="font-size:11.6px">1500</text>
<text x="917.8" y="971.8" class="yl">6</text>
<text x="45.9" y="949.8" class="yl" text-anchor="end" style="font-size:11.6px">2000</text>
<text x="917.8" y="949.8" class="yl">8</text>
<text x="45.9" y="927.8" class="yl" text-anchor="end" style="font-size:11.6px">2500</text>
<text x="917.8" y="927.8" class="yl">10</text>
<text x="45.9" y="904.8" class="yl" text-anchor="end" style="font-size:11.6px">3000</text>
<text x="917.8" y="904.8" class="yl">12</text>
<text x="45.9" y="882.8" class="yl" text-anchor="end" style="font-size:11.6px">3500</text>
<text x="917.8" y="882.8" class="yl">14</text>
<path d="M54 1034.5H62M903 1034.5H911M54 1011.5H62M903 1011.5H911M54 989.5H62M903 989.5H911M54 967.5H62M903 967.5H911M54 945.5H62M903 945.5H911M54 923.5H62M903 923.5H911M54 900.5H62M903 900.5H911M54 878.5H62M903 878.5H911M73.5 1030V1039M90.5 1030V1039M106.5 1030V1039M122.5 1030V1039M139.5 1030V1039M155.5 1030V1039M171.5 1030V1039M188.5 1030V1039M204.5 1030V1039M220.5 1030V1039M237.5 1030V1039M253.5 1030V1039M269.5 1030V1039M286.5 1030V1039M302.5 1030V1039M318.5 1030V1039M335.5 1030V1039M351.5 1030V1039M367.5 1030V1039M384.5 1030V1039M400.5 1030V1039M417.5 1030V1039M433.5 1030V1039M449.5 1030V1039M466.5 1030V1039M482.5 1030V1039M498.5 1030V1039M515.5 1030V1039M531.5 1030V1039M547.5 1030V1039M564.5 1030V1039M580.5 1030V1039M596.5 1030V1039M613.5 1030V1039M629.5 1030V1039M645.5 1030V1039M662.5 1030V1039M678.5 1030V1039M694.5 1030V1039M711.5 1030V1039M727.5 1030V1039M744.5 1030V1039M760.5 1030V1039M776.5 1030V1039M793.5 1030V1039M809.5 1030V1039M825.5 1030V1039M842.5 1030V1039M858.5 1030V1039M874.5 1030V1039M891.5 1030V1039" stroke="#000"/>
<text x="65.47" y="1053.6" class="xl" text-anchor="middle">9/02/17</text>
<text x="130.88" y="1053.6" class="xl" text-anchor="middle">9/30/17</text>
<text x="196.28" y="1053.6" class="xl" text-anchor="middle">10/28/17</text>
<text x="261.68" y="1053.6" class="xl" text-anchor="middle">11/25/17</text>
<text x="327.08" y="1053.6" class="xl" text-anchor="middle">12/23/17</text>
<text x="392.48" y="1053.6" class="xl" text-anchor="middle">1/20/18</text>
<text x="457.88" y="1053.6" class="xl" text-anchor="middle">2/17/18</text>
<text x="523.27" y="1053.6" class="xl" text-anchor="middle">3/17/18</text>
<text x="588.67" y="1053.6" class="xl" text-anchor="middle">4/14/18</text>
<text x="654.08" y="1053.6" class="xl" text-anchor="middle">5/12/18</text>
<text x="719.48" y="1053.6" class="xl" text-anchor="middle">6/09/18</text>
<text x="784.88" y="1053.6" class="xl" text-anchor="middle">7/07/18</text>
<text x="850.27" y="1053.6" class="xl" text-anchor="middle">8/04/18</text>
<polyline fill="none" stroke="#76121F" stroke-width="1.1" points="65.47,1001.85 81.83,1025.81 98.17,1012.66 114.53,1015 130.88,1019.68 147.23,1016.67 163.57,1019.68 179.93,1017.9 196.28,995.72 212.62,1014.78 228.98,1015.33 245.32,1005.42 261.68,999.73 278.03,1002.74 294.38,986.7 310.73,984.58 327.08,972.55 343.43,980.68 359.78,979.79 376.13,980.68 392.48,961.51 408.83,956.72 425.18,969.87"/>
<path d="M65.47 997.55L69.77 1001.85L65.47 1006.15L61.17 1001.85ZM81.83 1021.51L86.12 1025.81L81.83 1030.11L77.53 1025.81ZM98.17 1008.36L102.47 1012.66L98.17 1016.96L93.88 1012.66ZM114.53 1010.7L118.83 1015L114.53 1019.3L110.23 1015ZM130.88 1015.38L135.18 1019.68L130.88 1023.98L126.58 1019.68ZM147.23 1012.37L151.53 1016.67L147.23 1020.97L142.93 1016.67ZM163.57 1015.38L167.88 1019.68L163.57 1023.98L159.27 1019.68ZM179.93 1013.6L184.23 1017.9L179.93 1022.2L175.62 1017.9ZM196.28 991.42L200.58 995.72L196.28 1000.02L191.98 995.72ZM212.62 1010.48L216.93 1014.78L212.62 1019.08L208.32 1014.78ZM228.98 1011.03L233.28 1015.33L228.98 1019.63L224.68 1015.33ZM245.32 1001.12L249.62 1005.42L245.32 1009.72L241.02 1005.42ZM261.68 995.43L265.98 999.73L261.68 1004.03L257.38 999.73ZM278.03 998.44L282.33 1002.74L278.03 1007.04L273.73 1002.74ZM294.38 982.4L298.68 986.7L294.38 991L290.07 986.7ZM310.73 980.28L315.03 984.58L310.73 988.88L306.43 984.58ZM327.08 968.25L331.38 972.55L327.08 976.85L322.78 972.55ZM343.43 976.38L347.73 980.68L343.43 984.98L339.12 980.68ZM359.78 975.49L364.08 979.79L359.78 984.09L355.48 979.79ZM376.13 976.38L380.43 980.68L376.13 984.98L371.83 980.68ZM392.48 957.21L396.78 961.51L392.48 965.81L388.18 961.51ZM408.83 952.42L413.13 956.72L408.83 961.02L404.53 956.72ZM425.18 965.57L429.48 969.87L425.18 974.17L420.88 969.87Z" fill="#D20000" stroke="#8A0A14" stroke-width="0.5"/>
<text x="481" y="887.8" class="tt" text-anchor="middle" textLength="88.5" lengthAdjust="spacingAndGlyphs">Prairies (Pr)</text>
<path d="M55 1197.5H908" stroke="#808080"/>
<path d="M55 1178.5H908" stroke="#808080"/>
<path d="M55 1159.5H908" stroke="#808080"/>
<path d="M55 1140.5H908" stroke="#808080"/>
<path d="M55 1121.5H908" stroke="#808080"/>
<path d="M55 1102.5H908" stroke="#808080"/>
<path d="M55 1083.5H908" stroke="#808080"/>
<rect x="55.5" y="1212.5" width="15" height="4" fill="#CCEBFD" stroke="#000"/>
<rect x="71.5" y="1212.5" width="15" height="4" fill="#CCEBFD" stroke="#000"/>
<rect x="88.5" y="1212.5" width="15" height="4" fill="#CCEBFD" stroke="#000"/>
<rect x="104.5" y="1210.5" width="15" height="6" fill="#CCEBFD" stroke="#000"/>
<rect x="120.5" y="1210.5" width="16" height="6" fill="#CCEBFD" stroke="#000"/>
<rect x="137.5" y="1205.5" width="15" height="11" fill="#CCEBFD" stroke="#000"/>
<rect x="153.5" y="1209.5" width="15" height="7" fill="#CCEBFD" stroke="#000"/>
<rect x="170.5" y="1208.5" width="15" height="8" fill="#CCEBFD" stroke="#000"/>
<rect x="186.5" y="1208.5" width="15" height="8" fill="#CCEBFD" stroke="#000"/>
<rect x="203.5" y="1208.5" width="15" height="8" fill="#CCEBFD" stroke="#000"/>
<rect x="219.5" y="1205.5" width="15" height="11" fill="#CCEBFD" stroke="#000"/>
<rect x="235.5" y="1208.5" width="15" height="8" fill="#CCEBFD" stroke="#000"/>
<rect x="252.5" y="1206.5" width="15" height="10" fill="#CCEBFD" stroke="#000"/>
<rect x="268.5" y="1208.5" width="15" height="8" fill="#CCEBFD" stroke="#000"/>
<rect x="285.5" y="1208.5" width="15" height="8" fill="#CCEBFD" stroke="#000"/>
<rect x="301.5" y="1209.5" width="15" height="7" fill="#CCEBFD" stroke="#000"/>
<rect x="318.5" y="1207.5" width="15" height="9" fill="#CCEBFD" stroke="#000"/>
<rect x="334.5" y="1208.5" width="15" height="8" fill="#CCEBFD" stroke="#000"/>
<rect x="350.5" y="1205.5" width="15" height="11" fill="#CCEBFD" stroke="#000"/>
<rect x="367.5" y="1202.5" width="15" height="14" fill="#CCEBFD" stroke="#000"/>
<rect x="383.5" y="1200.5" width="15" height="16" fill="#CCEBFD" stroke="#000"/>
<rect x="400.5" y="1204.5" width="15" height="12" fill="#CCEBFD" stroke="#000"/>
<rect x="416.5" y="1203.5" width="15" height="13" fill="#CCEBFD" stroke="#000"/>
<path d="M54.5 1083V1221M908.5 1083V1221M51 1216.5H912" stroke="#000"/>
<text x="44.1" y="1220.8" class="yl" text-anchor="end" style="font-size:11.6px">0</text>
<text x="918.8" y="1220.8" class="yl">0</text>
<text x="44.1" y="1201.8" class="yl" text-anchor="end" style="font-size:11.6px">500</text>
<text x="918.8" y="1201.8" class="yl">2</text>
<text x="44.1" y="1182.8" class="yl" text-anchor="end" style="font-size:11.6px">1000</text>
<text x="918.8" y="1182.8" class="yl">4</text>
<text x="44.1" y="1163.8" class="yl" text-anchor="end" style="font-size:11.6px">1500</text>
<text x="918.8" y="1163.8" class="yl">6</text>
<text x="44.1" y="1144.8" class="yl" text-anchor="end" style="font-size:11.6px">2000</text>
<text x="918.8" y="1144.8" class="yl">8</text>
<text x="44.1" y="1125.8" class="yl" text-anchor="end" style="font-size:11.6px">2500</text>
<text x="918.8" y="1125.8" class="yl">10</text>
<text x="44.1" y="1106.8" class="yl" text-anchor="end" style="font-size:11.6px">3000</text>
<text x="918.8" y="1106.8" class="yl">12</text>
<text x="44.1" y="1087.8" class="yl" text-anchor="end" style="font-size:11.6px">3500</text>
<text x="918.8" y="1087.8" class="yl">14</text>
<path d="M51 1216.5H59M904 1216.5H912M51 1197.5H59M904 1197.5H912M51 1178.5H59M904 1178.5H912M51 1159.5H59M904 1159.5H912M51 1140.5H59M904 1140.5H912M51 1121.5H59M904 1121.5H912M51 1102.5H59M904 1102.5H912M51 1083.5H59M904 1083.5H912M70.5 1212V1221M87.5 1212V1221M103.5 1212V1221M120.5 1212V1221M136.5 1212V1221M153.5 1212V1221M169.5 1212V1221M185.5 1212V1221M202.5 1212V1221M218.5 1212V1221M235.5 1212V1221M251.5 1212V1221M267.5 1212V1221M284.5 1212V1221M300.5 1212V1221M317.5 1212V1221M333.5 1212V1221M350.5 1212V1221M366.5 1212V1221M382.5 1212V1221M399.5 1212V1221M415.5 1212V1221M432.5 1212V1221M448.5 1212V1221M465.5 1212V1221M481.5 1212V1221M497.5 1212V1221M514.5 1212V1221M530.5 1212V1221M547.5 1212V1221M563.5 1212V1221M579.5 1212V1221M596.5 1212V1221M612.5 1212V1221M629.5 1212V1221M645.5 1212V1221M662.5 1212V1221M678.5 1212V1221M694.5 1212V1221M711.5 1212V1221M727.5 1212V1221M744.5 1212V1221M760.5 1212V1221M776.5 1212V1221M793.5 1212V1221M809.5 1212V1221M826.5 1212V1221M842.5 1212V1221M859.5 1212V1221M875.5 1212V1221M891.5 1212V1221" stroke="#000"/>
<text x="62.71" y="1236.5" class="xl" text-anchor="middle">9/02/17</text>
<text x="128.39" y="1236.5" class="xl" text-anchor="middle">9/30/17</text>
<text x="194.07" y="1236.5" class="xl" text-anchor="middle">10/28/17</text>
<text x="259.75" y="1236.5" class="xl" text-anchor="middle">11/25/17</text>
<text x="325.43" y="1236.5" class="xl" text-anchor="middle">12/23/17</text>
<text x="391.11" y="1236.5" class="xl" text-anchor="middle">1/20/18</text>
<text x="456.79" y="1236.5" class="xl" text-anchor="middle">2/17/18</text>
<text x="522.47" y="1236.5" class="xl" text-anchor="middle">3/17/18</text>
<text x="588.15" y="1236.5" class="xl" text-anchor="middle">4/14/18</text>
<text x="653.83" y="1236.5" class="xl" text-anchor="middle">5/12/18</text>
<text x="719.51" y="1236.5" class="xl" text-anchor="middle">6/09/18</text>
<text x="785.19" y="1236.5" class="xl" text-anchor="middle">7/07/18</text>
<text x="850.87" y="1236.5" class="xl" text-anchor="middle">8/04/18</text>
<polyline fill="none" stroke="#76121F" stroke-width="1.1" points="62.71,1190.66 79.13,1196.36 95.55,1162.63 111.97,1210.33 128.39,1210.33 144.81,1196.36 161.23,1216.5 177.65,1216.5 194.07,1216.5 210.49,1207.38 226.91,1203.39 243.33,1216.5 259.75,1201.59 276.17,1207.66 292.59,1216.5 309.01,1186.48 325.43,1208.62 341.85,1181.35 358.27,1190.66 374.69,1166.43 391.11,1188.57 407.53,1175.65 423.95,1162.16"/>
<path d="M62.71 1186.36L67.01 1190.66L62.71 1194.96L58.41 1190.66ZM79.13 1192.06L83.43 1196.36L79.13 1200.66L74.83 1196.36ZM95.55 1158.34L99.85 1162.63L95.55 1166.93L91.25 1162.63ZM111.97 1206.03L116.27 1210.33L111.97 1214.62L107.67 1210.33ZM128.39 1206.03L132.69 1210.33L128.39 1214.62L124.09 1210.33ZM144.81 1192.06L149.11 1196.36L144.81 1200.66L140.51 1196.36ZM161.23 1212.2L165.53 1216.5L161.23 1220.8L156.93 1216.5ZM177.65 1212.2L181.95 1216.5L177.65 1220.8L173.35 1216.5ZM194.07 1212.2L198.37 1216.5L194.07 1220.8L189.77 1216.5ZM210.49 1203.08L214.79 1207.38L210.49 1211.68L206.19 1207.38ZM226.91 1199.09L231.21 1203.39L226.91 1207.69L222.61 1203.39ZM243.33 1212.2L247.63 1216.5L243.33 1220.8L239.03 1216.5ZM259.75 1197.29L264.05 1201.59L259.75 1205.88L255.45 1201.59ZM276.17 1203.37L280.47 1207.66L276.17 1211.96L271.87 1207.66ZM292.59 1212.2L296.89 1216.5L292.59 1220.8L288.29 1216.5ZM309.01 1182.18L313.31 1186.48L309.01 1190.78L304.71 1186.48ZM325.43 1204.32L329.73 1208.62L325.43 1212.91L321.13 1208.62ZM341.85 1177.05L346.15 1181.35L341.85 1185.65L337.55 1181.35ZM358.27 1186.36L362.57 1190.66L358.27 1194.96L353.97 1190.66ZM374.69 1162.13L378.99 1166.43L374.69 1170.73L370.39 1166.43ZM391.11 1184.27L395.41 1188.57L391.11 1192.87L386.81 1188.57ZM407.53 1171.35L411.83 1175.65L407.53 1179.95L403.23 1175.65ZM423.95 1157.86L428.25 1162.16L423.95 1166.46L419.65 1162.16Z" fill="#D20000" stroke="#8A0A14" stroke-width="0.5"/>
<text x="480.25" y="1092.6" class="tt" text-anchor="middle" textLength="164.9" lengthAdjust="spacingAndGlyphs">British Columbia (BC)</text>
<rect x="327.5" y="1269.5" width="26" height="9" fill="#CCEBFD" stroke="#000"/>
<text x="357.2" y="1279.5" class="lg" textLength="90.7" lengthAdjust="spacingAndGlyphs">Total Tests</text>
<path d="M471 1273.5H498" stroke="#76121F" stroke-width="1.1"/>
<path d="M484.5 1269.9L488.2 1273.6L484.5 1277.3L480.8 1273.6Z" fill="#D20000" stroke="#8A0A14" stroke-width="0.5"/>
<text x="501.5" y="1279.5" class="lg" textLength="136.7" lengthAdjust="spacingAndGlyphs">% Tests Positive</text>
</svg>
</body></html>
